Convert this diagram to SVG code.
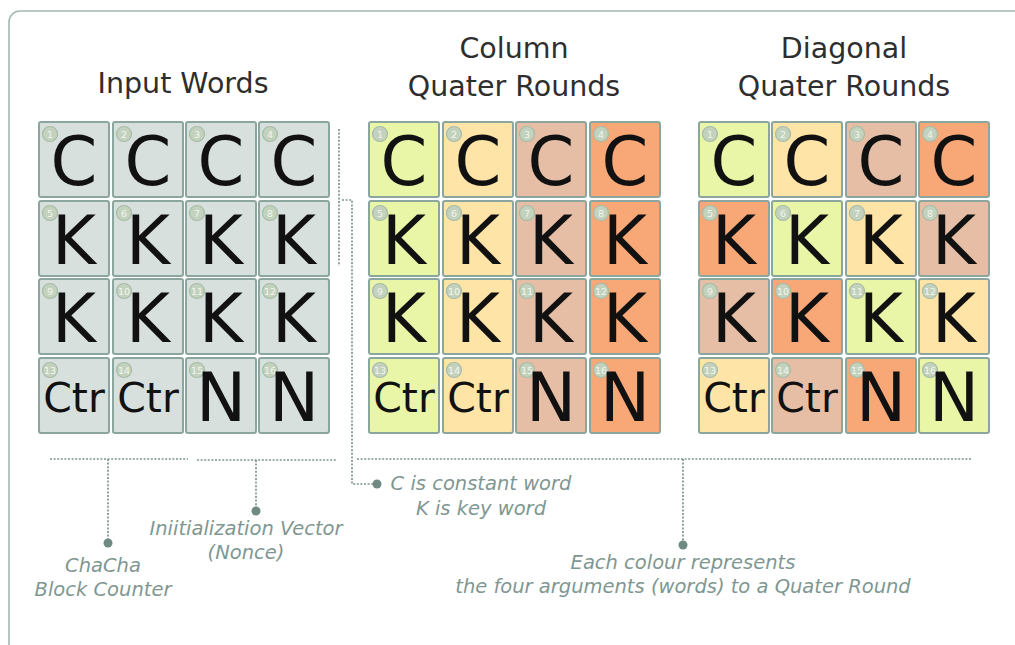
<svg xmlns="http://www.w3.org/2000/svg" width="1015" height="645" viewBox="0 0 1015 645">
  <style>
    .frame { fill: none; stroke: #a3b9b1; stroke-width: 1.6; }
    .title { font-family: "DejaVu Sans", "Liberation Sans", sans-serif; font-size: 28.5px; fill: #2e2e2e; text-anchor: middle; }
    .cell { stroke: #8ba69e; stroke-width: 2; }
    .gray { fill: #d8e0de; }
    .g { fill: #e9f6a7; }
    .y { fill: #fee4a6; }
    .t { fill: #e6bea6; }
    .o { fill: #f8a777; }
    .badge { fill: #c3d2bd; stroke: #a7bba8; stroke-width: 1.2; }
    .num { font-family: "DejaVu Sans", sans-serif; font-size: 9.5px; fill: #f2f5ef; text-anchor: middle; }
    .big { font-family: "DejaVu Sans", "Liberation Sans", sans-serif; font-size: 67px; fill: #111; text-anchor: middle; }
    .ctr { font-family: "DejaVu Sans", "Liberation Sans", sans-serif; font-size: 41px; fill: #111; text-anchor: middle; }
    .dots { fill: none; stroke: #7d958e; stroke-width: 1.7; stroke-dasharray: 2 1.6; }
    .pin { fill: #6f8a82; }
    .note { font-family: "DejaVu Sans", "Liberation Sans", sans-serif; font-style: italic; font-size: 19.5px; fill: #7f9792; text-anchor: middle; }
  </style>

  <defs>
    <!-- one word cell, 70 x 75 -->
    <rect id="box" x="0" y="0" width="70" height="75" rx="2"/>
    <circle id="dot" cx="11" cy="12" r="7.5"/>
  </defs>

  <rect width="1015" height="645" fill="#ffffff"/>
  <path class="frame" d="M9,645 V22 A11,11 0 0 1 20,11 H1015"/>

  <!-- headings -->
  <text class="title" x="183" y="93">Input Words</text>
  <text class="title" x="514" y="58">Column</text>
  <text class="title" x="514" y="96">Quater Rounds</text>
  <text class="title" x="844" y="58">Diagonal</text>
  <text class="title" x="844" y="96">Quater Rounds</text>

  <!-- input state words -->
  <g id="input-words">
    <g id="in-1" transform="translate(39,122)"><use href="#box" class="cell gray"/><use href="#dot" class="badge"/><text class="num" x="11" y="15.5">1</text><text class="big" x="35" y="63">C</text></g>
    <g id="in-2" transform="translate(113,122)"><use href="#box" class="cell gray"/><use href="#dot" class="badge"/><text class="num" x="11" y="15.5">2</text><text class="big" x="35" y="63">C</text></g>
    <g id="in-3" transform="translate(186,122)"><use href="#box" class="cell gray"/><use href="#dot" class="badge"/><text class="num" x="11" y="15.5">3</text><text class="big" x="35" y="63">C</text></g>
    <g id="in-4" transform="translate(259,122)"><use href="#box" class="cell gray"/><use href="#dot" class="badge"/><text class="num" x="11" y="15.5">4</text><text class="big" x="35" y="63">C</text></g>
    <g id="in-5" transform="translate(39,201)"><use href="#box" class="cell gray"/><use href="#dot" class="badge"/><text class="num" x="11" y="15.5">5</text><text class="big" x="35" y="63">K</text></g>
    <g id="in-6" transform="translate(113,201)"><use href="#box" class="cell gray"/><use href="#dot" class="badge"/><text class="num" x="11" y="15.5">6</text><text class="big" x="35" y="63">K</text></g>
    <g id="in-7" transform="translate(186,201)"><use href="#box" class="cell gray"/><use href="#dot" class="badge"/><text class="num" x="11" y="15.5">7</text><text class="big" x="35" y="63">K</text></g>
    <g id="in-8" transform="translate(259,201)"><use href="#box" class="cell gray"/><use href="#dot" class="badge"/><text class="num" x="11" y="15.5">8</text><text class="big" x="35" y="63">K</text></g>
    <g id="in-9" transform="translate(39,279)"><use href="#box" class="cell gray"/><use href="#dot" class="badge"/><text class="num" x="11" y="15.5">9</text><text class="big" x="35" y="63">K</text></g>
    <g id="in-10" transform="translate(113,279)"><use href="#box" class="cell gray"/><use href="#dot" class="badge"/><text class="num" x="11" y="15.5">10</text><text class="big" x="35" y="63">K</text></g>
    <g id="in-11" transform="translate(186,279)"><use href="#box" class="cell gray"/><use href="#dot" class="badge"/><text class="num" x="11" y="15.5">11</text><text class="big" x="35" y="63">K</text></g>
    <g id="in-12" transform="translate(259,279)"><use href="#box" class="cell gray"/><use href="#dot" class="badge"/><text class="num" x="11" y="15.5">12</text><text class="big" x="35" y="63">K</text></g>
    <g id="in-13" transform="translate(39,358)"><use href="#box" class="cell gray"/><use href="#dot" class="badge"/><text class="num" x="11" y="15.5">13</text><text class="ctr" x="35" y="54">Ctr</text></g>
    <g id="in-14" transform="translate(113,358)"><use href="#box" class="cell gray"/><use href="#dot" class="badge"/><text class="num" x="11" y="15.5">14</text><text class="ctr" x="35" y="54">Ctr</text></g>
    <g id="in-15" transform="translate(186,358)"><use href="#box" class="cell gray"/><use href="#dot" class="badge"/><text class="num" x="11" y="15.5">15</text><text class="big" x="35" y="63">N</text></g>
    <g id="in-16" transform="translate(259,358)"><use href="#box" class="cell gray"/><use href="#dot" class="badge"/><text class="num" x="11" y="15.5">16</text><text class="big" x="35" y="63">N</text></g>
  </g>

  <!-- column quarter rounds: one colour per column -->
  <g id="column-rounds">
    <g id="col-1" transform="translate(369,122)"><use href="#box" class="cell g"/><use href="#dot" class="badge"/><text class="num" x="11" y="15.5">1</text><text class="big" x="35" y="63">C</text></g>
    <g id="col-2" transform="translate(443,122)"><use href="#box" class="cell y"/><use href="#dot" class="badge"/><text class="num" x="11" y="15.5">2</text><text class="big" x="35" y="63">C</text></g>
    <g id="col-3" transform="translate(516,122)"><use href="#box" class="cell t"/><use href="#dot" class="badge"/><text class="num" x="11" y="15.5">3</text><text class="big" x="35" y="63">C</text></g>
    <g id="col-4" transform="translate(590,122)"><use href="#box" class="cell o"/><use href="#dot" class="badge"/><text class="num" x="11" y="15.5">4</text><text class="big" x="35" y="63">C</text></g>
    <g id="col-5" transform="translate(369,201)"><use href="#box" class="cell g"/><use href="#dot" class="badge"/><text class="num" x="11" y="15.5">5</text><text class="big" x="35" y="63">K</text></g>
    <g id="col-6" transform="translate(443,201)"><use href="#box" class="cell y"/><use href="#dot" class="badge"/><text class="num" x="11" y="15.5">6</text><text class="big" x="35" y="63">K</text></g>
    <g id="col-7" transform="translate(516,201)"><use href="#box" class="cell t"/><use href="#dot" class="badge"/><text class="num" x="11" y="15.5">7</text><text class="big" x="35" y="63">K</text></g>
    <g id="col-8" transform="translate(590,201)"><use href="#box" class="cell o"/><use href="#dot" class="badge"/><text class="num" x="11" y="15.5">8</text><text class="big" x="35" y="63">K</text></g>
    <g id="col-9" transform="translate(369,279)"><use href="#box" class="cell g"/><use href="#dot" class="badge"/><text class="num" x="11" y="15.5">9</text><text class="big" x="35" y="63">K</text></g>
    <g id="col-10" transform="translate(443,279)"><use href="#box" class="cell y"/><use href="#dot" class="badge"/><text class="num" x="11" y="15.5">10</text><text class="big" x="35" y="63">K</text></g>
    <g id="col-11" transform="translate(516,279)"><use href="#box" class="cell t"/><use href="#dot" class="badge"/><text class="num" x="11" y="15.5">11</text><text class="big" x="35" y="63">K</text></g>
    <g id="col-12" transform="translate(590,279)"><use href="#box" class="cell o"/><use href="#dot" class="badge"/><text class="num" x="11" y="15.5">12</text><text class="big" x="35" y="63">K</text></g>
    <g id="col-13" transform="translate(369,358)"><use href="#box" class="cell g"/><use href="#dot" class="badge"/><text class="num" x="11" y="15.5">13</text><text class="ctr" x="35" y="54">Ctr</text></g>
    <g id="col-14" transform="translate(443,358)"><use href="#box" class="cell y"/><use href="#dot" class="badge"/><text class="num" x="11" y="15.5">14</text><text class="ctr" x="35" y="54">Ctr</text></g>
    <g id="col-15" transform="translate(516,358)"><use href="#box" class="cell t"/><use href="#dot" class="badge"/><text class="num" x="11" y="15.5">15</text><text class="big" x="35" y="63">N</text></g>
    <g id="col-16" transform="translate(590,358)"><use href="#box" class="cell o"/><use href="#dot" class="badge"/><text class="num" x="11" y="15.5">16</text><text class="big" x="35" y="63">N</text></g>
  </g>

  <!-- diagonal quarter rounds: colours shift one place per row -->
  <g id="diagonal-rounds">
    <g id="diag-1" transform="translate(699,122)"><use href="#box" class="cell g"/><use href="#dot" class="badge"/><text class="num" x="11" y="15.5">1</text><text class="big" x="35" y="63">C</text></g>
    <g id="diag-2" transform="translate(772,122)"><use href="#box" class="cell y"/><use href="#dot" class="badge"/><text class="num" x="11" y="15.5">2</text><text class="big" x="35" y="63">C</text></g>
    <g id="diag-3" transform="translate(846,122)"><use href="#box" class="cell t"/><use href="#dot" class="badge"/><text class="num" x="11" y="15.5">3</text><text class="big" x="35" y="63">C</text></g>
    <g id="diag-4" transform="translate(919,122)"><use href="#box" class="cell o"/><use href="#dot" class="badge"/><text class="num" x="11" y="15.5">4</text><text class="big" x="35" y="63">C</text></g>
    <g id="diag-5" transform="translate(699,201)"><use href="#box" class="cell o"/><use href="#dot" class="badge"/><text class="num" x="11" y="15.5">5</text><text class="big" x="35" y="63">K</text></g>
    <g id="diag-6" transform="translate(772,201)"><use href="#box" class="cell g"/><use href="#dot" class="badge"/><text class="num" x="11" y="15.5">6</text><text class="big" x="35" y="63">K</text></g>
    <g id="diag-7" transform="translate(846,201)"><use href="#box" class="cell y"/><use href="#dot" class="badge"/><text class="num" x="11" y="15.5">7</text><text class="big" x="35" y="63">K</text></g>
    <g id="diag-8" transform="translate(919,201)"><use href="#box" class="cell t"/><use href="#dot" class="badge"/><text class="num" x="11" y="15.5">8</text><text class="big" x="35" y="63">K</text></g>
    <g id="diag-9" transform="translate(699,279)"><use href="#box" class="cell t"/><use href="#dot" class="badge"/><text class="num" x="11" y="15.5">9</text><text class="big" x="35" y="63">K</text></g>
    <g id="diag-10" transform="translate(772,279)"><use href="#box" class="cell o"/><use href="#dot" class="badge"/><text class="num" x="11" y="15.5">10</text><text class="big" x="35" y="63">K</text></g>
    <g id="diag-11" transform="translate(846,279)"><use href="#box" class="cell g"/><use href="#dot" class="badge"/><text class="num" x="11" y="15.5">11</text><text class="big" x="35" y="63">K</text></g>
    <g id="diag-12" transform="translate(919,279)"><use href="#box" class="cell y"/><use href="#dot" class="badge"/><text class="num" x="11" y="15.5">12</text><text class="big" x="35" y="63">K</text></g>
    <g id="diag-13" transform="translate(699,358)"><use href="#box" class="cell y"/><use href="#dot" class="badge"/><text class="num" x="11" y="15.5">13</text><text class="ctr" x="35" y="54">Ctr</text></g>
    <g id="diag-14" transform="translate(772,358)"><use href="#box" class="cell t"/><use href="#dot" class="badge"/><text class="num" x="11" y="15.5">14</text><text class="ctr" x="35" y="54">Ctr</text></g>
    <g id="diag-15" transform="translate(846,358)"><use href="#box" class="cell o"/><use href="#dot" class="badge"/><text class="num" x="11" y="15.5">15</text><text class="big" x="35" y="63">N</text></g>
    <g id="diag-16" transform="translate(919,358)"><use href="#box" class="cell g"/><use href="#dot" class="badge"/><text class="num" x="11" y="15.5">16</text><text class="big" x="35" y="63">N</text></g>
  </g>

  <!-- dotted callout leaders -->
  <g id="connectors">
    <path class="dots" d="M339,129 V266"/>
    <path class="dots" d="M342,200 H352 V484 H374"/>
    <circle class="pin" cx="377" cy="484" r="4.5"/>

    <path class="dots" d="M50,459 H188"/>
    <path class="dots" d="M108,459 V540"/>
    <circle class="pin" cx="108" cy="543" r="4.5"/>

    <path class="dots" d="M197,460 H337"/>
    <path class="dots" d="M256,460 V508"/>
    <circle class="pin" cx="256" cy="511" r="4.5"/>

    <path class="dots" d="M357,459 H972"/>
    <path class="dots" d="M683,459 V542"/>
    <circle class="pin" cx="683" cy="545" r="4.5"/>
  </g>

  <!-- callout notes -->
  <g id="notes">
    <text class="note" x="481" y="490">C is constant word</text>
    <text class="note" x="481" y="515">K is key word</text>
    <text class="note" x="246" y="535">Iniitialization Vector</text>
    <text class="note" x="246" y="559">(Nonce)</text>
    <text class="note" x="103" y="572">ChaCha</text>
    <text class="note" x="103" y="596">Block Counter</text>
    <text class="note" x="683" y="569">Each colour represents</text>
    <text class="note" x="683" y="593">the four arguments (words) to a Quater Round</text>
  </g>
</svg>
